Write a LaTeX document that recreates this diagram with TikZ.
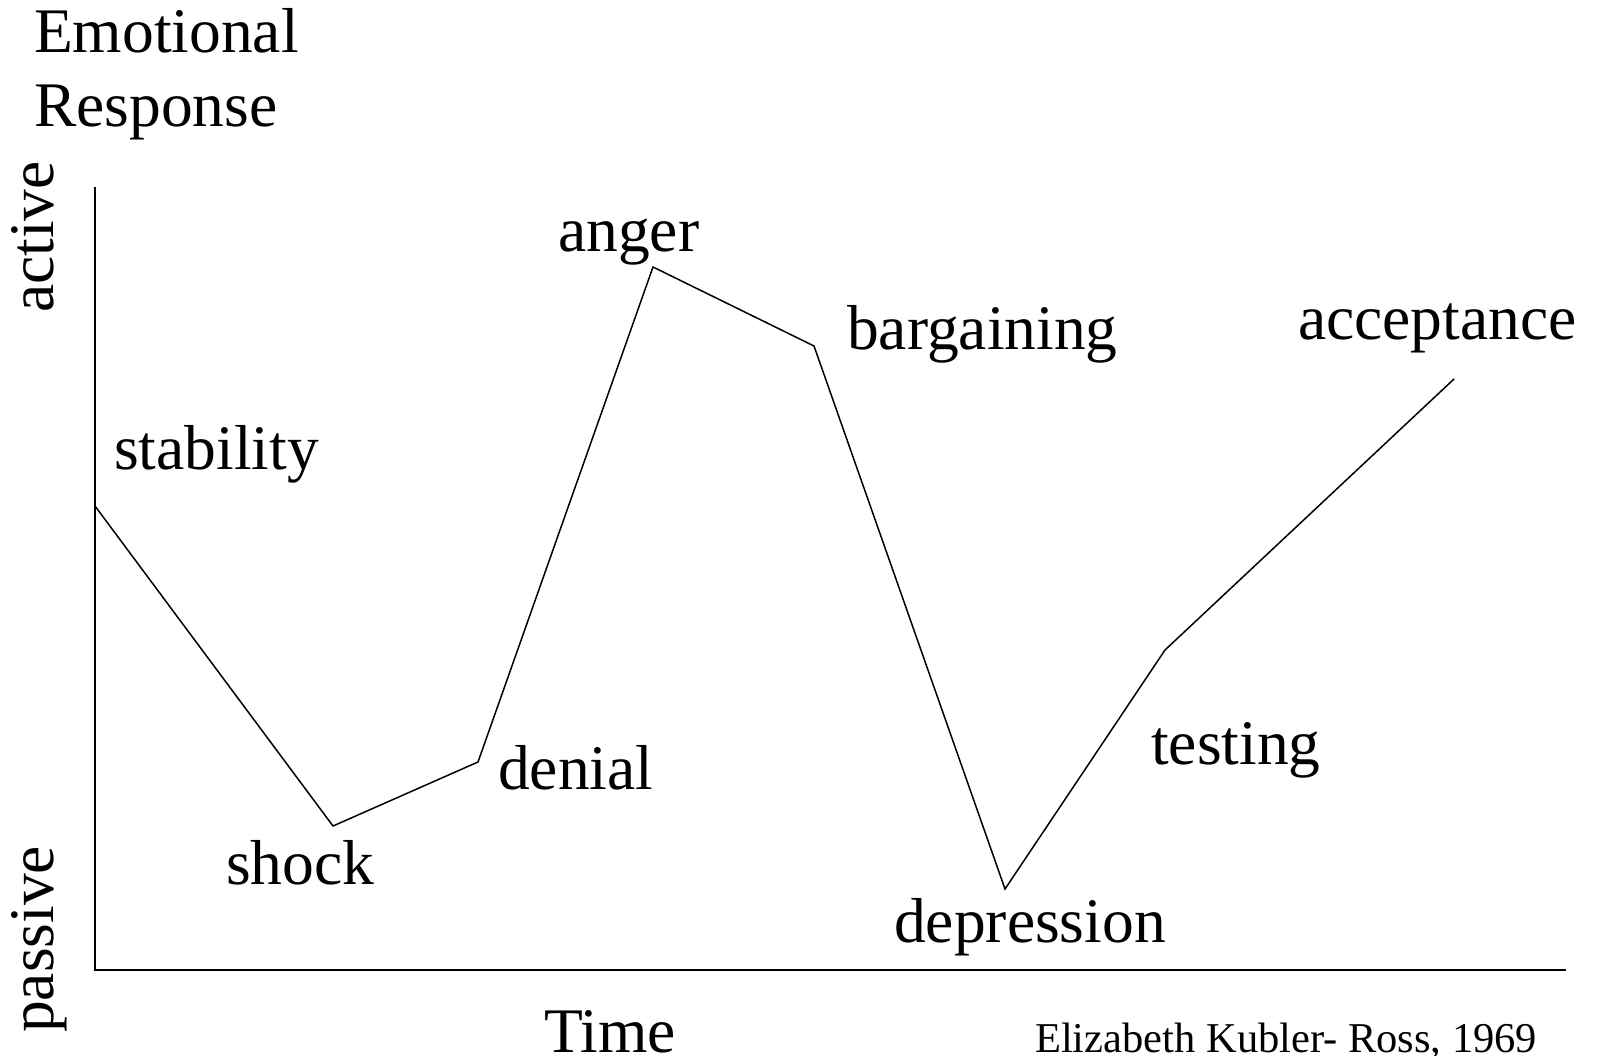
\documentclass[tikz,border=0pt]{standalone}
\usepackage{fontspec}
\setmainfont{Liberation Serif}
\begin{document}
\begin{tikzpicture}[x=1pt,y=-1pt,
  lbl/.style={anchor=base west,inner sep=0pt,font=\fontsize{63.5}{63.5}\selectfont},
  note/.style={anchor=base west,inner sep=0pt,font=\fontsize{42.5}{42.5}\selectfont},
  axisline/.style={line width=2.4pt,line cap=rect},
  curve/.style={line width=1.5pt,line join=miter}]
\useasboundingbox (0,0) rectangle (1597,1056);
\fill[white] (0,0) rectangle (1597,1056);

% axes
\coordinate (ytop) at (95,188);
\coordinate (origin) at (95,970);
\coordinate (xend) at (1565,970);
\draw[axisline] (ytop) -- (origin) -- (xend);

% stages of the response curve
\coordinate (p0) at (95,506);
\coordinate (p1) at (333,826);
\coordinate (p2) at (478,762);
\coordinate (p3) at (653,267);
\coordinate (p4) at (814,346);
\coordinate (p5) at (1005,889);
\coordinate (p6) at (1165,650);
\coordinate (p7) at (1454,379);
\draw[curve] (p0) -- (p1) -- (p2) -- (p3) -- (p4) -- (p5) -- (p6) -- (p7);

% axis titles
\node[lbl] (t1) at (34,53) {Emotional};
\node[lbl] (t2) at (34,127) {Response};
\node[lbl,rotate=90] (act) at (53,313) {active};
\node[lbl,rotate=90] (pas) at (53,1033) {passive};
\node[lbl] (time) at (544,1052) {Time};
\node[note] (src) at (1035,1052) {Elizabeth Kubler- Ross, 1969};

% stage labels
\node[lbl] (stab) at (114,469) {stability};
\node[lbl] (shock) at (226,884) {shock};
\node[lbl] (den) at (498,789) {denial};
\node[lbl] (ang) at (558,252) {anger};
\node[lbl] (barg) at (847,349) {bargaining};
\node[lbl] (dep) at (894,942) {depression};
\node[lbl] (test) at (1151,764) {testing};
\node[lbl] (acc) at (1298,339) {acceptance};
\end{tikzpicture}
\end{document}
